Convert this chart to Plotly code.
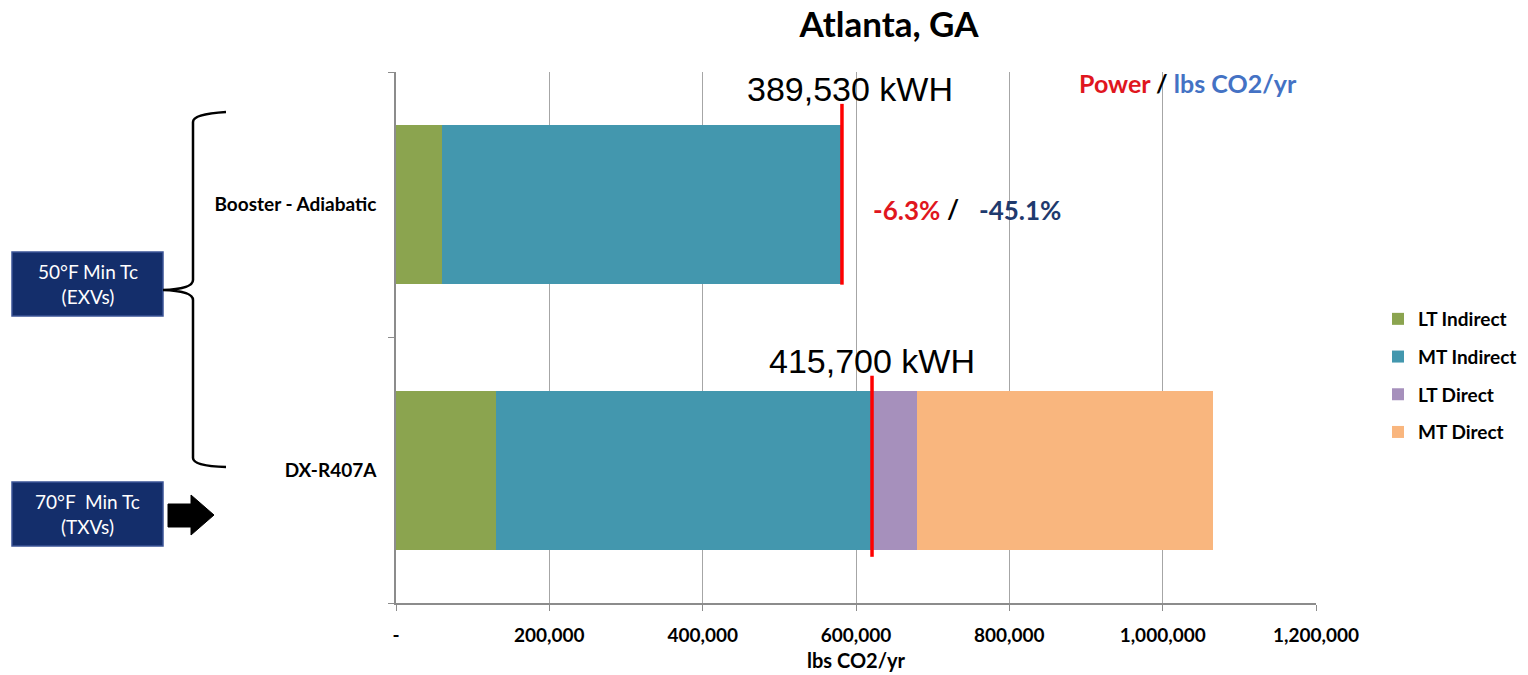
import plotly.graph_objects as go

# ---------------- data ----------------
systems = ["DX-R407A", "Booster - Adiabatic"]
series_names = ["LT Indirect", "MT Indirect", "LT Direct", "MT Direct"]
lt_indirect = [130400, 60000]
mt_indirect = [491800, 520400]
lt_direct = [57400, 0]
mt_direct = [386000, 0]
power_marker = [620900, 581700]          # red line positions (lbs CO2/yr axis)
power_labels = ["415,700 kWH", "389,530 kWH"]
pct_power = "-6.3%"
pct_co2 = "-45.1%"
x_tickvals = [0, 200000, 400000, 600000, 800000, 1000000, 1200000]
x_ticktext = ["-", "200,000", "400,000", "600,000", "800,000", "1,000,000", "1,200,000"]
box_labels = ["50°F Min Tc<br>(EXVs)", "70°F  Min Tc<br>(TXVs)"]

colors = ["#8BA44F", "#4397AE", "#A690BC", "#F9B67E"]
values = [lt_indirect, mt_indirect, lt_direct, mt_direct]

W, H = 1528, 675
L, R, T, B = 396, 212, 72, 72
PW, PH = W - L - R, H - T - B


def px(x):
    return (x - L) / PW


def py(y):
    return (H - B - y) / PH


fig = go.Figure()
for name, vals, col in zip(series_names, values, colors):
    fig.add_trace(go.Bar(
        y=systems, x=vals, name=name, orientation="h",
        marker=dict(color=col, line=dict(width=0)),
        legendgroup=name,
    ))

shapes = []
annotations = []

# red power lines
line_spans = [(-0.326, 0.356), (0.699, 1.380)]
label_xshift = [0, 8]
for i, (xv, (y0, y1)) in enumerate(zip(power_marker, line_spans)):
    shapes.append(dict(type="line", xref="x", yref="y", x0=xv, x1=xv, y0=y0, y1=y1,
                       line=dict(color="#FF0000", width=3.5), layer="above"))
    annotations.append(dict(xref="x", yref="y", x=xv, y=y1, text=power_labels[i],
                            showarrow=False, yanchor="bottom", xanchor="center",
                            yshift=-6, xshift=label_xshift[i],
                            font=dict(family="Liberation Sans, Arial", size=34, color="#000000")))

# percent annotations
annotations.append(dict(xref="paper", yref="paper", x=px(871), y=py(210), text=pct_power,
                        showarrow=False, xanchor="left", yanchor="middle",
                        font=dict(family="Lato", size=26, color="#E0161E", weight="bold")))
annotations.append(dict(xref="paper", yref="paper", x=px(945), y=py(209), text="/",
                        showarrow=False, xanchor="left", yanchor="middle",
                        font=dict(family="Lato", size=26, color="#000000", weight="bold")))
annotations.append(dict(xref="paper", yref="paper", x=px(977), y=py(210), text=pct_co2,
                        showarrow=False, xanchor="left", yanchor="middle",
                        font=dict(family="Lato", size=26, color="#1F3A6E", weight="bold")))

# Power / lbs CO2/yr header
annotations.append(dict(xref="paper", yref="paper", x=px(1299), y=py(83),
                        text="<span style='color:#E0161E'>Power</span> / <span style='color:#4472C4'>lbs CO2/yr</span>",
                        showarrow=False, xanchor="right", yanchor="middle",
                        font=dict(family="Lato", size=25, color="#000000", weight="bold")))

# left boxes
box_rects = [(12, 252, 163, 316), (12, 482, 163, 546)]
for (x0, y0, x1, y1), lab in zip(box_rects, box_labels):
    shapes.append(dict(type="rect", xref="paper", yref="paper",
                       x0=px(x0), x1=px(x1), y0=py(y1), y1=py(y0),
                       fillcolor="#142E6B", line=dict(color="#3B5496", width=1.5), layer="above"))
    annotations.append(dict(xref="paper", yref="paper", x=px((x0 + x1) / 2), y=py((y0 + y1) / 2),
                            text=lab, showarrow=False, xanchor="center", yanchor="middle",
                            font=dict(family="Lato", size=19, color="#FFFFFF")))

# brace
brace_pts = ("M {a},{b} Q {c},{d} {c},{e} L {c},{f} Q {c},{g} {h},{i} Q {c},{j} {c},{k} "
             "L {c},{l} Q {c},{m} {a},{n}").format(
    a=px(226), b=py(112), c=px(193), d=py(114), e=py(122), f=py(280), g=py(289),
    h=px(163), i=py(290), j=py(291), k=py(300), l=py(458), m=py(466), n=py(467))
shapes.append(dict(type="path", xref="paper", yref="paper", path=brace_pts,
                   line=dict(color="#000000", width=2.5)))

# arrow
arrow = "M {a},{b} L {c},{b} L {c},{d} L {e},{f} L {c},{g} L {c},{h} L {a},{h} Z".format(
    a=px(168), b=py(504), c=px(191), d=py(495), e=px(214), f=py(515), g=py(535), h=py(527))
shapes.append(dict(type="path", xref="paper", yref="paper", path=arrow,
                   fillcolor="#000000", line=dict(color="#000000", width=1)))

fig.update_layout(
    width=W, height=H,
    margin=dict(l=L, r=R, t=T, b=B, autoexpand=False),
    paper_bgcolor="#FFFFFF", plot_bgcolor="#FFFFFF",
    barmode="stack", bargap=0.4,
    title=dict(text="<b>Atlanta, GA</b>", x=px(889), xref="paper", xanchor="center",
               y=1 - 25 / H, yref="container", yanchor="middle",
               font=dict(family="Lato", size=35, color="#000000")),
    xaxis=dict(range=[0, 1200000], tickvals=x_tickvals, ticktext=x_ticktext,
               showgrid=True, gridcolor="#A6A6A6", gridwidth=1,
               showline=True, linecolor="#8C8C8C", linewidth=1.5,
               ticks="outside", ticklen=6, tickcolor="#8C8C8C",
               ticklabelstandoff=8, zeroline=False,
               tickfont=dict(family="Lato", size=19, color="#000000", weight="bold"),
               title=dict(text="lbs CO2/yr", standoff=9,
                          font=dict(family="Lato", size=20, color="#000000", weight="bold"))),
    yaxis=dict(type="category", categoryorder="array", categoryarray=systems,
               range=[-0.5, 1.5], tickson="boundaries",
               showgrid=False, showline=True, linecolor="#8C8C8C", linewidth=1.5,
               ticks="outside", ticklen=6, tickcolor="#8C8C8C", ticklabelstandoff=14,
               tickfont=dict(family="Lato", size=19, color="#000000", weight="bold")),
    legend=dict(x=px(1378), xanchor="left", y=py(300), yanchor="top",
                traceorder="grouped", tracegroupgap=10,
                font=dict(family="Lato", size=19, color="#000000", weight="bold"),
                itemwidth=30, bgcolor="rgba(0,0,0,0)"),
    shapes=shapes, annotations=annotations,
)

fig.write_html("out.html", config={"displayModeBar": False},
               post_script="document.body.style.margin='0';")
